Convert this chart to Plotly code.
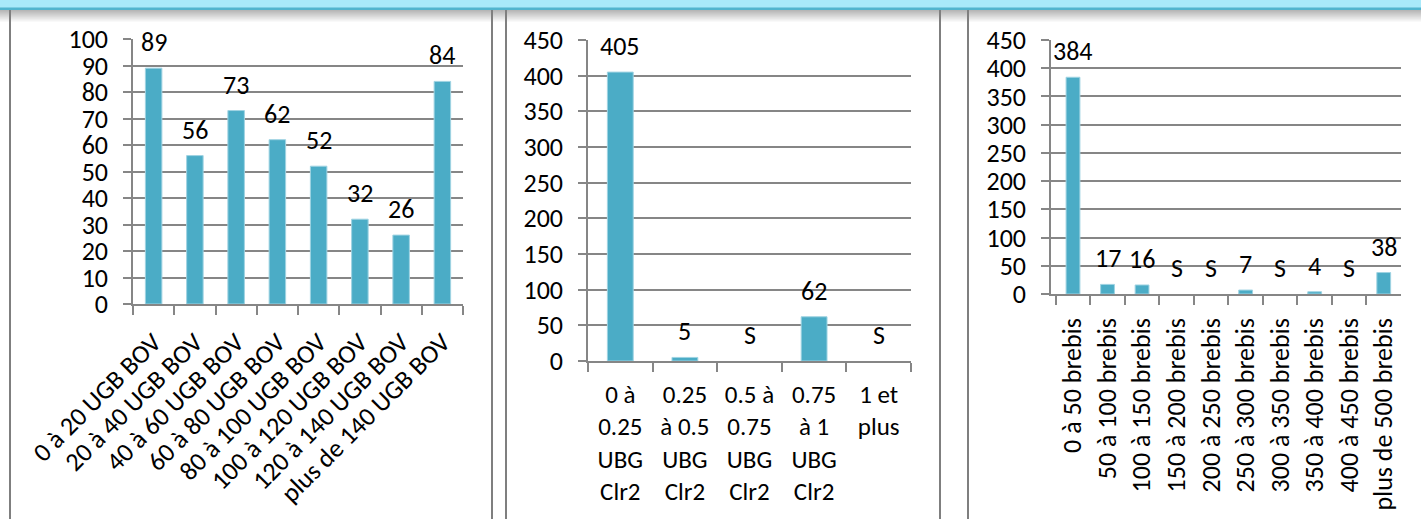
import plotly.graph_objects as go

# ---------------- data ----------------
cat1 = ["0 à 20 UGB BOV", "20 à 40 UGB BOV", "40 à 60 UGB BOV", "60 à 80 UGB BOV",
        "80 à 100 UGB BOV", "100 à 120 UGB BOV", "120 à 140 UGB BOV", "plus de 140 UGB BOV"]
val1 = [89, 56, 73, 62, 52, 32, 26, 84]
lab1 = ["89", "56", "73", "62", "52", "32", "26", "84"]

cat2 = ["0 à 0.25 UBG Clr2", "0.25 à 0.5 UBG Clr2", "0.5 à 0.75 UBG Clr2",
        "0.75 à 1 UBG Clr2", "1 et plus"]
tick2 = ["0 à<br>0.25<br>UBG<br>Clr2", "0.25<br>à 0.5<br>UBG<br>Clr2", "0.5 à<br>0.75<br>UBG<br>Clr2",
         "0.75<br>à 1<br>UBG<br>Clr2", "1 et<br>plus"]
val2 = [405, 5, None, 62, None]
lab2 = ["405", "5", "S", "62", "S"]

cat3 = ["0 à 50 brebis", "50 à 100 brebis", "100 à 150 brebis", "150 à 200 brebis",
        "200 à 250 brebis", "250 à 300 brebis", "300 à 350 brebis", "350 à 400 brebis",
        "400 à 450 brebis", "plus de 500 brebis"]
val3 = [384, 17, 16, None, None, 7, None, 4, None, 38]
lab3 = ["384", "17", "16", "S", "S", "7", "S", "4", "S", "38"]

# ---------------- style ----------------
W, H = 1421, 519
FONT = "Carlito, Lato, sans-serif"
FS = 26
BAR = "#4BACC6"
GRID = "#868686"


def px(x):
    return x / W


def py(y):
    return 1 - y / H


fig = go.Figure()

panels = [
    (cat1, val1, lab1, None, "x", "y"),
    (cat2, val2, lab2, tick2, "x2", "y2"),
    (cat3, val3, lab3, None, "x3", "y3"),
]

annotations = []
for cats, vals, labs, ticks, xa, ya in panels:
    fig.add_trace(go.Bar(x=cats, y=vals, xaxis=xa, yaxis=ya, width=0.4,
                         marker=dict(color=BAR, line=dict(color="#9fd3e2", width=1)),
                         showlegend=False, hoverinfo="skip"))
    for c, v, t in zip(cats, vals, labs):
        annotations.append(dict(x=c, y=(v if v is not None else 0), xref=xa, yref=ya,
                                text=t, showarrow=False, yanchor="middle", yshift=26,
                                font=dict(family=FONT, size=FS, color="#000")))

common_x = dict(type="category", showline=True, linecolor=GRID, linewidth=1.5,
                ticks="outside", tickson="boundaries", ticklen=9, tickcolor=GRID,
                tickwidth=1.5, showgrid=False, zeroline=False, automargin=False,
                tickfont=dict(family=FONT, size=FS, color="#000"))
common_y = dict(showline=True, linecolor=GRID, linewidth=1.5, ticks="outside",
                ticklen=8, tickcolor=GRID, tickwidth=1.5, showgrid=True,
                gridcolor=GRID, gridwidth=1.5, zeroline=False, automargin=False,
                ticklabelstandoff=10,
                tickfont=dict(family=FONT, size=FS, color="#000"))

fig.update_layout(
    template="none",
    width=W, height=H, margin=dict(l=0, r=0, t=0, b=0, pad=0, autoexpand=False),
    paper_bgcolor="white", plot_bgcolor="white",
    font=dict(family=FONT, size=FS, color="#000"),
    xaxis=dict(common_x, domain=[px(133), px(463)], anchor="y", tickangle=-45,
               ticklabelstandoff=11),
    yaxis=dict(common_y, domain=[py(304), py(39)], anchor="x", range=[0, 100], dtick=10),
    xaxis2=dict(common_x, domain=[px(588), px(911)], anchor="y2", tickangle=0,
                tickvals=cat2, ticktext=tick2, ticklabelstandoff=10,
                tickfont=dict(family=FONT, size=25, color="#000")),
    yaxis2=dict(common_y, domain=[py(361), py(40)], anchor="x2", range=[0, 450], dtick=50),
    xaxis3=dict(common_x, domain=[px(1051), px(1401)], anchor="y3", tickangle=-90,
                ticklabelstandoff=12),
    yaxis3=dict(common_y, domain=[py(294), py(40)], anchor="x3", range=[0, 450], dtick=50),
    annotations=annotations,
)

shapes = []
# top band
shapes.append(dict(type="rect", xref="paper", yref="paper", x0=0, x1=1, y0=py(8), y1=1,
                   fillcolor="#A9E9FA", line=dict(width=0), layer="above"))
shapes.append(dict(type="rect", xref="paper", yref="paper", x0=0, x1=1, y0=py(10), y1=py(7.5),
                   fillcolor="#52B4CE", line=dict(width=0), layer="above"))
# grey shadow gradient under the band
for i in range(12):
    op = 0.55 * (1 - i / 12)
    shapes.append(dict(type="rect", xref="paper", yref="paper", x0=0, x1=1,
                       y0=py(11 + i), y1=py(10 + i), fillcolor="#7a7a7a", opacity=op,
                       line=dict(width=0), layer="below"))
# panel borders
for bx in [10, 492, 506, 940, 968]:
    shapes.append(dict(type="line", xref="paper", yref="paper", x0=px(bx), x1=px(bx),
                       y0=0, y1=py(10), line=dict(color="#7f7f7f", width=2), layer="above"))
fig.update_layout(shapes=shapes)

fig.write_html("out.html", config={"displayModeBar": False},
               post_script="document.body.style.margin='0';document.body.style.overflow='hidden';")
